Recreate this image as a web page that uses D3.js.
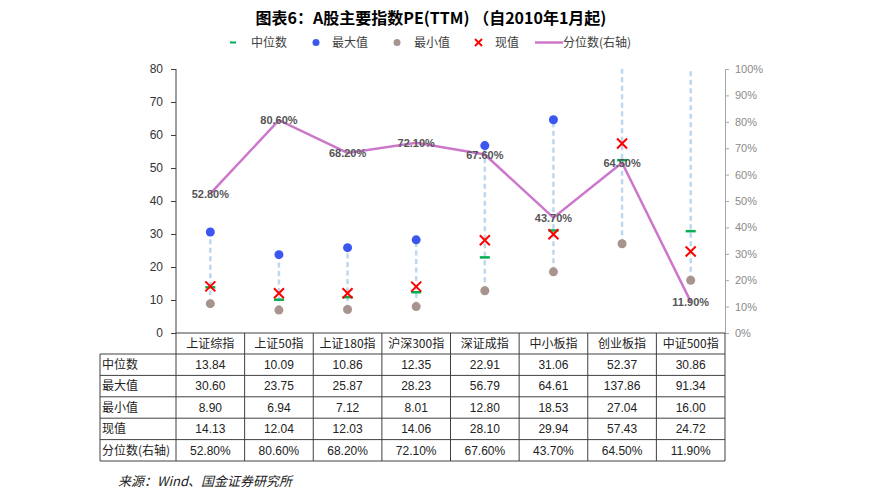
<!DOCTYPE html>
<html><head><meta charset="utf-8">
<script src="https://cdn.jsdelivr.net/npm/d3@7"></script>
<style>
body{margin:0;background:#fff;}
svg{display:block;font-family:"Noto Sans CJK SC","Noto Sans",sans-serif;}
</style></head>
<body><svg id="c" width="888" height="500"></svg>
<script>
const categories = ["上证综指","上证50指","上证180指","沪深300指","深证成指","中小板指","创业板指","中证500指"];
const medianVals = [13.84,10.09,10.86,12.35,22.91,31.06,52.37,30.86];
const maxVals = [30.60,23.75,25.87,28.23,56.79,64.61,137.86,91.34];
const minVals = [8.90,6.94,7.12,8.01,12.80,18.53,27.04,16.00];
const currentVals = [14.13,12.04,12.03,14.06,28.10,29.94,57.43,24.72];
const percentileVals = [0.528,0.806,0.682,0.721,0.676,0.437,0.645,0.119];
const rowLabels = ["中位数","最大值","最小值","现值","分位数(右轴)"];
const leftTicks = [0,10,20,30,40,50,60,70,80];
const rightTicks = [0,0.1,0.2,0.3,0.4,0.5,0.6,0.7,0.8,0.9,1.0];

const svg = d3.select("#c");
const L = 176, R = 725, T = 69, B = 333;
const x = d3.scaleBand().domain(categories).range([L, R]);
const y = d3.scaleLinear().domain([0, 80]).range([B, T]);
const y2 = d3.scaleLinear().domain([0, 1]).range([B, T]);
const cx = c => x(c) + x.bandwidth() / 2;

// Title
svg.append("text").attr("x", 431).attr("y", 24).attr("text-anchor", "middle")
  .attr("font-size", 16).attr("font-weight", "bold").attr("fill", "#000")
  .text("图表6：A股主要指数PE(TTM) （自2010年1月起)");

// Legend
const ly = 42.5;
const lg = svg.append("g").attr("font-size", 12);
lg.append("line").attr("x1", 230).attr("x2", 236).attr("y1", ly).attr("y2", ly).attr("stroke", "#00b050").attr("stroke-width", 2);
lg.append("text").attr("x", 251).attr("y", ly + 4.5).attr("fill", "#404040").text("中位数");
lg.append("circle").attr("cx", 316).attr("cy", ly).attr("r", 3.5).attr("fill", "#3b57f0");
lg.append("text").attr("x", 332).attr("y", ly + 4.5).attr("fill", "#404040").text("最大值");
lg.append("circle").attr("cx", 397).attr("cy", ly).attr("r", 3.5).attr("fill", "#a8948e");
lg.append("text").attr("x", 414).attr("y", ly + 4.5).attr("fill", "#404040").text("最小值");
lg.append("path").attr("d", `M${475},${ly - 3.5}L${482},${ly + 3.5}M${482},${ly - 3.5}L${475},${ly + 3.5}`).attr("stroke", "#ff0000").attr("stroke-width", 1.8);
lg.append("text").attr("x", 495).attr("y", ly + 4.5).attr("fill", "#404040").text("现值");
lg.append("line").attr("x1", 535).attr("x2", 563).attr("y1", ly).attr("y2", ly).attr("stroke", "#cc77cc").attr("stroke-width", 2.5);
lg.append("text").attr("x", 563).attr("y", ly + 4.5).attr("fill", "#404040").text("分位数(右轴)");

// Axes
const axL = svg.append("g").attr("transform", `translate(${L},0)`)
  .call(d3.axisLeft(y).tickValues(leftTicks).tickSize(5).tickSizeOuter(0).tickPadding(8));
axL.select(".domain").attr("stroke", "#404040").attr("d", `M0,${T}V354`);
axL.selectAll(".tick line").attr("stroke", "#404040");
axL.selectAll("text").attr("font-size", 12).attr("fill", "#333").attr("font-family", "Liberation Sans, Arial");

const axR = svg.append("g").attr("transform", `translate(${R},0)`)
  .call(d3.axisRight(y2).tickValues(rightTicks).tickFormat(d3.format(".0%")).tickSize(4).tickSizeOuter(0).tickPadding(6));
axR.select(".domain").attr("stroke", "#a6a6a6");
axR.selectAll(".tick line").attr("stroke", "#a6a6a6");
axR.selectAll("text").attr("font-size", 11).attr("fill", "#8a8a8a").attr("font-family", "Liberation Sans, Arial");

// Clip
svg.append("defs").append("clipPath").attr("id", "plot").append("rect")
  .attr("x", L).attr("y", T).attr("width", R - L).attr("height", B - T);
const plot = svg.append("g").attr("clip-path", "url(#plot)");

// dashed range lines
plot.selectAll("line.rng").data(categories).join("line").attr("class", "rng")
  .attr("x1", cx).attr("x2", cx)
  .attr("y1", (d, i) => y(minVals[i])).attr("y2", (d, i) => y(maxVals[i]))
  .attr("stroke", "#bdd7ee").attr("stroke-width", 2.5).attr("stroke-dasharray", "5,3.5");

// min
plot.selectAll("circle.mn").data(categories).join("circle").attr("class", "mn")
  .attr("cx", cx).attr("cy", (d, i) => y(minVals[i])).attr("r", 4.5).attr("fill", "#a8948e");
// max
plot.selectAll("circle.mx").data(categories).join("circle").attr("class", "mx")
  .attr("cx", cx).attr("cy", (d, i) => y(maxVals[i])).attr("r", 4.5).attr("fill", "#3b57f0");
// median
plot.selectAll("line.md").data(categories).join("line").attr("class", "md")
  .attr("x1", d => cx(d) - 5).attr("x2", d => cx(d) + 5)
  .attr("y1", (d, i) => y(medianVals[i])).attr("y2", (d, i) => y(medianVals[i]))
  .attr("stroke", "#00b050").attr("stroke-width", 2.5);
// current
plot.selectAll("path.cur").data(categories).join("path").attr("class", "cur")
  .attr("d", (d, i) => { const px = cx(d), py = y(currentVals[i]), s = 5;
    return `M${px - s},${py - s}L${px + s},${py + s}M${px + s},${py - s}L${px - s},${py + s}`; })
  .attr("stroke", "#ff0000").attr("stroke-width", 2);

// percentile line
const line = d3.line().x((d, i) => cx(categories[i])).y(d => y2(d));
svg.append("path").datum(percentileVals).attr("d", line)
  .attr("fill", "none").attr("stroke", "#cc77cc").attr("stroke-width", 2.5);
svg.selectAll("text.pl").data(percentileVals).join("text").attr("class", "pl")
  .attr("x", (d, i) => cx(categories[i])).attr("y", d => y2(d) + 4)
  .attr("text-anchor", "middle").attr("font-size", 11).attr("font-weight", "bold")
  .attr("fill", "#555").attr("font-family", "Liberation Sans, Arial")
  .text(d => d3.format(".2%")(d));

// Table
const rowTop = 354, rowH = 21.4, tblLeft = 100;
const tbl = svg.append("g");
const rows = [medianVals, maxVals, minVals, currentVals, percentileVals];
const fmt = [d3.format(".2f"), d3.format(".2f"), d3.format(".2f"), d3.format(".2f"), d3.format(".2%")];
const lineC = "#404040";
categories.forEach((c, i) => {
  tbl.append("text").attr("x", cx(c)).attr("y", B + 15).attr("text-anchor", "middle")
    .attr("font-size", 12).attr("fill", "#222").text(c);
});
x.domain().forEach(c => {
  tbl.append("line").attr("x1", x(c) + x.bandwidth()).attr("x2", x(c) + x.bandwidth())
    .attr("y1", B).attr("y2", rowTop + rows.length * rowH).attr("stroke", lineC).attr("stroke-width", 1);
});
tbl.append("line").attr("x1", L).attr("x2", R).attr("y1", B).attr("y2", B).attr("stroke", lineC).attr("stroke-width", 1.2);
for (let r = 0; r <= rows.length; r++) {
  tbl.append("line").attr("x1", tblLeft).attr("x2", R).attr("y1", rowTop + r * rowH).attr("y2", rowTop + r * rowH)
    .attr("stroke", lineC).attr("stroke-width", 1);
}
tbl.append("line").attr("x1", tblLeft).attr("x2", tblLeft).attr("y1", rowTop).attr("y2", rowTop + rows.length * rowH).attr("stroke", lineC);
tbl.append("line").attr("x1", L).attr("x2", L).attr("y1", rowTop).attr("y2", rowTop + rows.length * rowH).attr("stroke", lineC);
rows.forEach((vals, r) => {
  const ty = rowTop + r * rowH + 15;
  tbl.append("text").attr("x", tblLeft + 2).attr("y", ty).attr("font-size", 12).attr("fill", "#222").text(rowLabels[r]);
  vals.forEach((v, i) => {
    tbl.append("text").attr("x", cx(categories[i])).attr("y", ty).attr("text-anchor", "middle")
      .attr("font-size", 12).attr("fill", "#222").attr("font-family", "Liberation Sans, Arial").text(fmt[r](v));
  });
});

// Source
svg.append("text").attr("x", 118).attr("y", 486).attr("font-size", 13).attr("font-style", "italic")
  .attr("fill", "#222").text("来源：Wind、国金证券研究所");
</script></body></html>
